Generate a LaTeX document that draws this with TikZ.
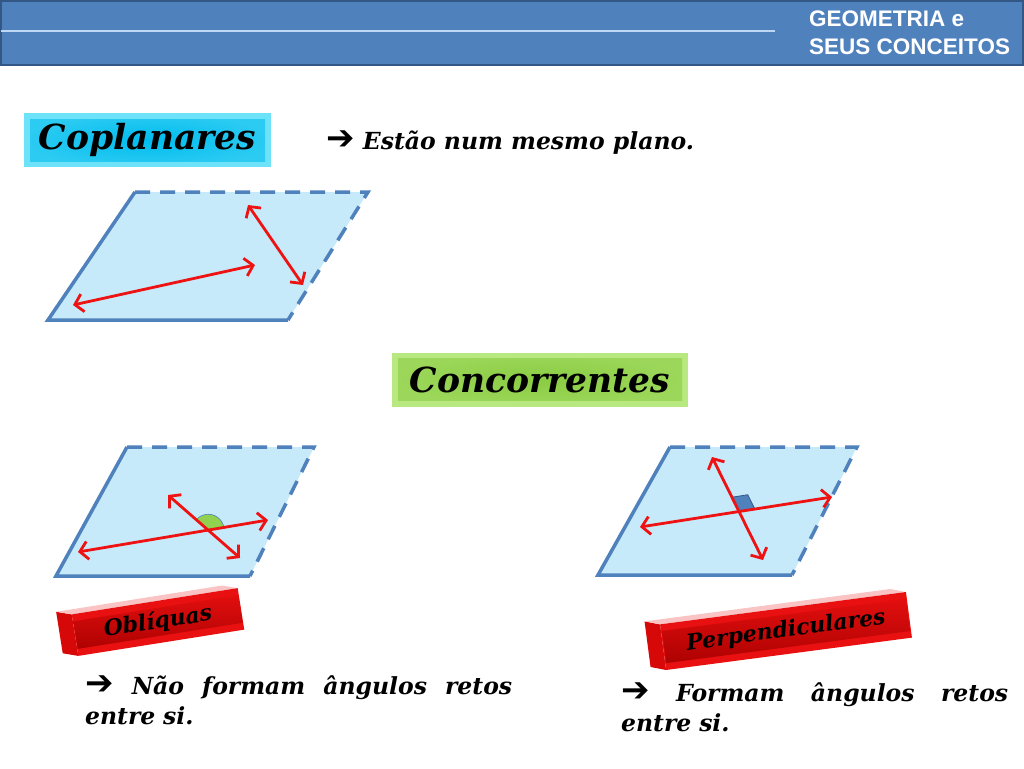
\documentclass[tikz,border=0pt]{standalone}
\usepackage{fontspec}
\setmainfont{DejaVu Serif}
\newfontfamily\headfont{Liberation Sans}
\newfontfamily\symfont{DejaVu Sans}
\usetikzlibrary{arrows.meta,positioning,calc}
\definecolor{cHead}{RGB}{79,129,189}
\definecolor{cHeadDk}{RGB}{52,88,134}
\definecolor{cHeadLine}{RGB}{190,215,242}
\definecolor{cPlane}{RGB}{198,234,249}
\definecolor{cArrow}{RGB}{238,18,18}
\definecolor{cCopOut}{RGB}{110,226,248}
\definecolor{cCopIn}{RGB}{0,188,238}
\definecolor{cConOut}{RGB}{184,232,128}
\definecolor{cConIn}{RGB}{138,204,66}
\definecolor{cBar}{RGB}{232,16,16}
\definecolor{cBarDk}{RGB}{168,0,0}
\definecolor{cBarTop}{RGB}{250,196,196}
\definecolor{cBarSide}{RGB}{214,8,8}
\definecolor{cWedge}{RGB}{146,208,80}
\newcommand{\garrow}{{\symfont\bfseries\upshape\fontsize{34}{30}\selectfont ➔}}
\tikzset{
	plane/.style={fill=cPlane},
	pedge/.style={draw=cHead, line width=3.5pt},
	pdash/.style={pedge, dash pattern=on 15pt off 10pt},
	rarr/.style={{Straight Barb[length=8pt,width=18pt]}-{Straight Barb[length=8pt,width=18pt]},
		line width=2.8pt, draw=cArrow},
	txt/.style={font=\bfseries\itshape\fontsize{23.5}{30.5}\selectfont, inner sep=0pt},
	titlebox/.style={minimum height=54pt, inner sep=0pt,
		font=\bfseries\itshape\fontsize{34.5}{38}\selectfont},
	coplbox/.style={titlebox, fill=cCopOut, path picture={
		\shade[inner color=cCopIn, outer color=cCopIn!60!cCopOut]
		($(path picture bounding box.south west)+(6,-6)$) rectangle
		($(path picture bounding box.north east)+(-6,6)$);}},
	concbox/.style={titlebox, fill=cConOut, path picture={
		\shade[inner color=cConIn, outer color=cConIn!60!cConOut]
		($(path picture bounding box.south west)+(6,-6)$) rectangle
		($(path picture bounding box.north east)+(-6,6)$);}},
	barface/.style={transform shape, fill=cBar, inner sep=0pt,
		font=\bfseries\itshape\fontsize{22}{26}\selectfont, path picture={
		\shade[top color=cBar, bottom color=cBarDk]
		($(path picture bounding box.south west)+(7,-6)$) rectangle
		($(path picture bounding box.north east)+(-7,6)$);}},
	wedge/.style={fill=cWedge, draw=cHead, line width=0.6pt},
	rsq/.style={fill=cHead, draw=cHeadDk, line width=0.8pt},
}
\begin{document}
\begin{tikzpicture}[x=1pt,y=-1pt]
	\useasboundingbox (0,0) rectangle (1024,768);
	\fill[white] (0,0) rectangle (1024,768);
	% header
	\fill[cHead] (0,0) rectangle (1024,65);
	\draw[cHeadDk, line width=2pt] (1,1) rectangle (1023,65);
	\draw[cHeadLine, line width=2pt] (1,31) -- (775,31);
	\node[anchor=north west, inner sep=0pt, align=left, text=white,
		font=\headfont\bfseries\fontsize{22.5}{28}\selectfont] (head) at (809,11)
		{GEOMETRIA e\\SEUS CONCEITOS};

	% coplanares
	\node[coplbox, minimum width=247pt] (copl) at (147.5,140) {Coplanares};
	\node[txt, anchor=west] (coptxt) at (326,143) {\garrow\ Estão num mesmo plano.};
	\coordinate (p1bl) at (48,320);
	\coordinate (p1br) at (288,320);
	\coordinate (p1tr) at (368,192);
	\coordinate (p1tl) at (135,192);
	\fill[plane] (p1bl) -- (p1br) -- (p1tr) -- (p1tl) -- cycle;
	\draw[pedge] (p1br) -- (p1bl) -- (p1tl);
	\draw[pdash] (p1tl) -- (p1tr) -- (p1br);
	\coordinate (a1s) at (73,305);
	\coordinate (a1e) at (255,265);
	\coordinate (b1s) at (248,205);
	\coordinate (b1e) at (303,285);
	\draw[rarr] (a1s) -- (a1e);
	\draw[rarr] (b1s) -- (b1e);

	% concorrentes
	\node[concbox, minimum width=296pt] (conc) at (540,379.5) {Concorrentes};

	% obliquas
	\coordinate (p2bl) at (56,576);
	\coordinate (p2br) at (250,576);
	\coordinate (p2tr) at (314,447);
	\coordinate (p2tl) at (127,447);
	\fill[plane] (p2bl) -- (p2br) -- (p2tr) -- (p2tl) -- cycle;
	\draw[pedge] (p2br) -- (p2bl) -- (p2tl);
	\draw[pdash] (p2tl) -- (p2tr) -- (p2br);
	\coordinate (a2s) at (78,552);
	\coordinate (a2e) at (268,520);
	\coordinate (b2s) at (168,495);
	\coordinate (b2e) at (240,558);
	\coordinate (o2) at (intersection of a2s--a2e and b2s--b2e);
	\filldraw[wedge] (o2) -- ($(o2)!16pt!(a2e)$) arc[start angle=10, end angle=138, radius=16pt] -- cycle;
	\draw[rarr] (a2s) -- (a2e);
	\draw[rarr] (b2s) -- (b2e);

	\begin{scope}[shift={(158,622)}, rotate=9]
		\fill[cBarSide] (-84,-21) -- (-84,21) -- (-99,16) -- (-99,-26) -- cycle;
		\fill[cBarTop] (-84,-21) -- (84,-21) -- (69,-26) -- (-99,-26) -- cycle;
		\node[barface, minimum width=168pt, minimum height=42pt] (obl) at (0,0) {Oblíquas};
	\end{scope}
	\node[txt, anchor=north west, text width=427pt, align=left] (obltxt) at (85,675)
		{\garrow\hfill Não\hfill formam\hfill ângulos\hfill retos\\entre si.};

	% perpendiculares
	\coordinate (p3bl) at (598,575);
	\coordinate (p3br) at (792,575);
	\coordinate (p3tr) at (857,447);
	\coordinate (p3tl) at (670,447);
	\fill[plane] (p3bl) -- (p3br) -- (p3tr) -- (p3tl) -- cycle;
	\draw[pedge] (p3br) -- (p3bl) -- (p3tl);
	\draw[pdash] (p3tl) -- (p3tr) -- (p3br);
	\coordinate (a3s) at (640,527);
	\coordinate (a3e) at (832,497);
	\coordinate (b3s) at (712,457);
	\coordinate (b3e) at (763,560);
	\coordinate (o3) at (intersection of a3s--a3e and b3s--b3e);
	\coordinate (s1) at ($(o3)!16pt!(a3e)$);
	\coordinate (s2) at ($(o3)!16pt!(b3s)$);
	\filldraw[rsq] (o3) -- (s1) -- ($(s1)+(s2)-(o3)$) -- (s2) -- cycle;
	\draw[rarr] (a3s) -- (a3e);
	\draw[rarr] (b3s) -- (b3e);

	\begin{scope}[shift={(786,631)}, rotate=7.5]
		\fill[cBarSide] (-124,-23) -- (-124,23) -- (-139,18) -- (-139,-28) -- cycle;
		\fill[cBarTop] (-124,-23) -- (124,-23) -- (109,-28) -- (-139,-28) -- cycle;
		\node[barface, minimum width=248pt, minimum height=46pt] (perp) at (0,0) {Perpendiculares};
	\end{scope}
	\node[txt, anchor=north west, text width=387pt, align=left] (perptxt) at (621,682)
		{\garrow\hfill Formam\hfill ângulos\hfill retos\\entre si.};
\end{tikzpicture}
\end{document}
